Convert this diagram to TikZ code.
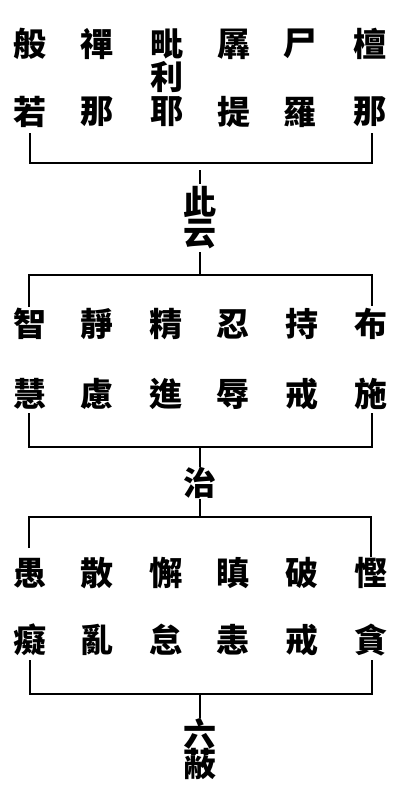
\documentclass[tikz,border=0pt]{standalone}
\usepackage{fontspec}
\newfontfamily\cjk{Noto Sans CJK TC Black}
\begin{document}
\begin{tikzpicture}[x=1pt,y=-1pt,
  ch/.style={font=\cjk\fontsize{33}{33}\selectfont, inner sep=0pt},
  ln/.style={line width=2.2pt, line cap=butt}]
\fill[white] (0,0) rectangle (400,804);
\useasboundingbox (0,0) rectangle (400,804);
% row 1
\node[ch] (a1) at (30,44) {般};
\node[ch] (a2) at (97,44) {禪};
\node[ch] (a3) at (167,44) {毗};
\node[ch] (a4) at (234,44) {羼};
\node[ch] (a5) at (300,44) {尸};
\node[ch] (a6) at (370,44) {檀};
\node[ch] (a3m) at (167,77) {利};
\node[ch] (b1) at (30,112) {若};
\node[ch] (b2) at (97,112) {那};
\node[ch] (b3) at (167,112) {耶};
\node[ch] (b4) at (234,112) {提};
\node[ch] (b5) at (300,112) {羅};
\node[ch] (b6) at (370,112) {那};
% 此云
\node[ch] (c1) at (200,202) {此};
\node[ch] (c2) at (200,234) {云};
% row 2
\node[ch] (d1) at (30,324) {智};
\node[ch] (d2) at (97,324) {靜};
\node[ch] (d3) at (166,324) {精};
\node[ch] (d4) at (233,324) {忍};
\node[ch] (d5) at (302,324) {持};
\node[ch] (d6) at (371,324) {布};
\node[ch] (e1) at (30,394) {慧};
\node[ch] (e2) at (97,394) {慮};
\node[ch] (e3) at (166,394) {進};
\node[ch] (e4) at (233,394) {辱};
\node[ch] (e5) at (302,394) {戒};
\node[ch] (e6) at (371,394) {施};
% 治
\node[ch] (z) at (200,483) {治};
% row 3
\node[ch] (f1) at (30,573) {愚};
\node[ch] (f2) at (97,573) {散};
\node[ch] (f3) at (166,573) {懈};
\node[ch] (f4) at (233,573) {瞋};
\node[ch] (f5) at (302,573) {破};
\node[ch] (f6) at (371,573) {慳};
\node[ch] (g1) at (30,640) {癡};
\node[ch] (g2) at (97,640) {亂};
\node[ch] (g3) at (166,640) {怠};
\node[ch] (g4) at (233,640) {恚};
\node[ch] (g5) at (302,640) {戒};
\node[ch] (g6) at (371,640) {貪};
% 六蔽
\node[ch] (h1) at (200,734) {六};
\node[ch] (h2) at (200,764) {蔽};
% bracket 1
\coordinate (p1) at (30,133);  \coordinate (p2) at (30,163);
\coordinate (p3) at (372,163); \coordinate (p4) at (372,133);
\draw[ln] (p1) -- (p2) -- (p3) -- (p4);
\coordinate (q1) at (200,170); \coordinate (q2) at (200,184);
\draw[ln] (q1) -- (q2);
\coordinate (q3) at (200,252); \coordinate (q4) at (200,275);
\draw[ln] (q3) -- (q4);
% bracket 2 top
\coordinate (r1) at (29,307);  \coordinate (r2) at (29,275);
\coordinate (r3) at (372,275); \coordinate (r4) at (372,306);
\draw[ln] (r1) -- (r2) -- (r3) -- (r4);
% bracket 2 bottom
\coordinate (s1) at (29,413);  \coordinate (s2) at (29,447);
\coordinate (s3) at (372,447); \coordinate (s4) at (372,413);
\draw[ln] (s1) -- (s2) -- (s3) -- (s4);
\coordinate (t1) at (200,447); \coordinate (t2) at (200,517);
\draw[ln] (t1) -- (z.north);
\draw[ln] (z.south) -- (t2);
% bracket 3 top
\coordinate (u1) at (29,548);  \coordinate (u2) at (29,517);
\coordinate (u3) at (371,517); \coordinate (u4) at (371,557);
\draw[ln] (u1) -- (u2) -- (u3) -- (u4);
% bracket 3 bottom
\coordinate (v1) at (30,660);  \coordinate (v2) at (30,694);
\coordinate (v3) at (372,694); \coordinate (v4) at (372,660);
\draw[ln] (v1) -- (v2) -- (v3) -- (v4);
\coordinate (w1) at (200,694);
\draw[ln] (w1) -- (h1.north);
\end{tikzpicture}
\end{document}
